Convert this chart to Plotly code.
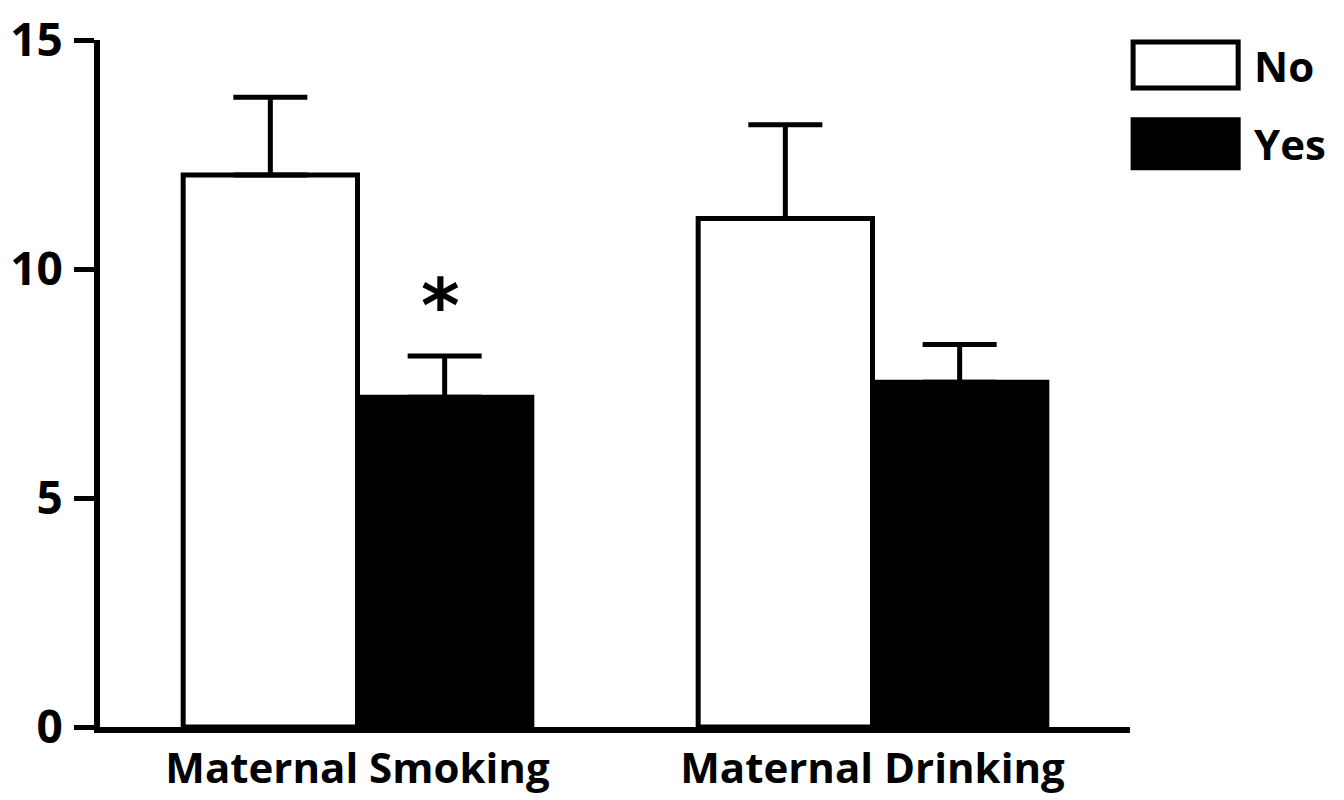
import plotly.graph_objects as go

categories = ["Maternal Smoking", "Maternal Drinking"]
no_values = [12.05, 11.1]
no_errors = [1.7, 2.05]
yes_values = [7.2, 7.53]
yes_errors = [0.9, 0.82]
y_ticks = [0, 5, 10, 15]
significance = ["*", ""]
significance_y = [9.48, None]

FONT = "Open Sans"

fig = go.Figure()
fig.add_trace(go.Bar(
    name="No", x=categories, y=no_values,
    marker=dict(color="white", line=dict(color="black", width=5)),
    error_y=dict(type="data", array=no_errors, arrayminus=[0, 0], symmetric=False,
                 color="black", thickness=5, width=37),
    showlegend=False,
))
fig.add_trace(go.Bar(
    name="Yes", x=categories, y=yes_values,
    marker=dict(color="black", line=dict(color="black", width=5)),
    error_y=dict(type="data", array=yes_errors, arrayminus=[0, 0], symmetric=False,
                 color="black", thickness=5, width=37),
    showlegend=False,
))

# significance marker above the "Yes" bar
for cat, s, sy in zip(categories, significance, significance_y):
    if s:
        fig.add_annotation(x=cat, y=sy, text=f"<b>{s}</b>", showarrow=False, yanchor="middle",
                           xshift=83, yshift=-13,
                           font=dict(family="DejaVu Sans", size=74, color="black"))

# custom legend
legend_items = [("No", "white", 0.930, 0.997), ("Yes", "black", 0.814, 0.884)]
for label, fill, y0, y1 in legend_items:
    fig.add_shape(type="rect", xref="paper", yref="paper",
                  x0=1.003, x1=1.105, y0=y0, y1=y1,
                  fillcolor=fill, line=dict(color="black", width=5))
    fig.add_annotation(xref="paper", yref="paper", x=1.118, y=(y0 + y1) / 2,
                       text=f"<b>{label}</b>", showarrow=False, xanchor="left",
                       yanchor="middle", font=dict(family=FONT, size=42, color="black"))

fig.update_layout(
    barmode="group",
    bargap=0.323,
    bargroupgap=0,
    width=1336, height=792,
    margin=dict(l=92, r=214, t=32, b=73),
    plot_bgcolor="white", paper_bgcolor="white",
    font=dict(family=FONT, color="black"),
    showlegend=False,
)
fig.update_xaxes(
    range=[-0.5, 1.5], showline=True, linecolor="black", linewidth=6,
    ticks="", tickfont=dict(family=FONT, size=42, weight="bold", color="black"),
    showgrid=False, zeroline=False, automargin=False,
)
fig.update_yaxes(
    range=[0, 15], tickvals=y_ticks, showline=True, linecolor="black", linewidth=6,
    ticks="outside", ticklen=20, tickwidth=5, tickcolor="black",
    ticklabelstandoff=2, ticklabeloverflow="allow",
    tickfont=dict(family=FONT, size=46, weight="bold", color="black"),
    showgrid=False, zeroline=False, automargin=False,
)

fig.write_html("out.html")
